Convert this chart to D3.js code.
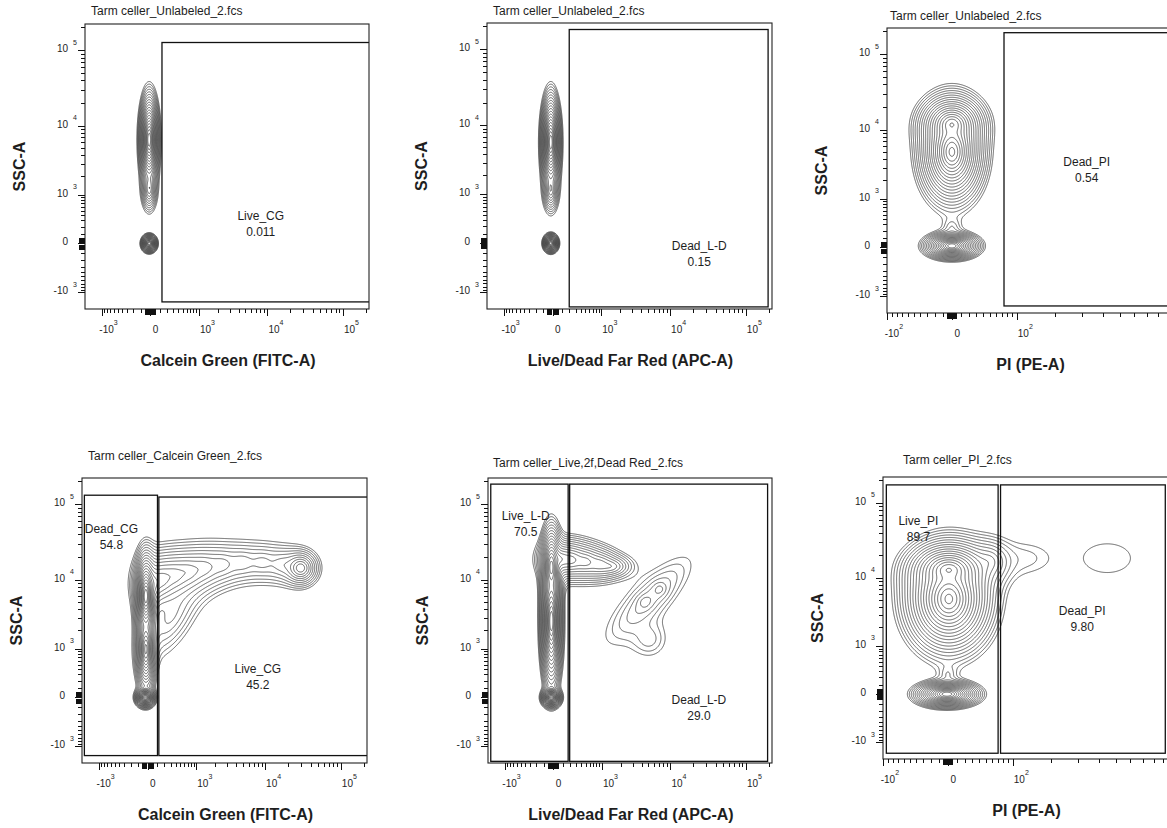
<!DOCTYPE html>
<html><head><meta charset="utf-8">
<script src="https://cdn.jsdelivr.net/npm/d3@7/dist/d3.min.js"></script>
<style>
body{margin:0;background:#fff;}
text{font-family:"Liberation Sans",Arial,Helvetica,sans-serif;fill:#1e1e1e;}
</style></head>
<body><svg id="chart" width="1167" height="828"></svg>
<script>
// ---------------- DATA ----------------
const fileNames = ["Tarm celler_Unlabeled_2.fcs","Tarm celler_Unlabeled_2.fcs","Tarm celler_Unlabeled_2.fcs",
  "Tarm celler_Calcein Green_2.fcs","Tarm celler_Live,2f,Dead Red_2.fcs","Tarm celler_PI_2.fcs"];
const xTitles = ["Calcein Green (FITC-A)","Live/Dead Far Red (APC-A)","PI (PE-A)",
  "Calcein Green (FITC-A)","Live/Dead Far Red (APC-A)","PI (PE-A)"];
const yTitle = "SSC-A";
const xKinds = ["wide","wide","narrow","wide","wide","narrow"];
const wideDomain = [-1850, 220000];
const wideConstant = 300;
const narrowDomain = [-100, 950];
const narrowConstant = 100;
const wideTickLabels = [-1000, 0, 1000, 10000, 100000];
const narrowTickLabels = [-100, 0, 100];

// populations: [x value, y value, spread x (log units), spread y (log units), relative density, correlation, gaussian?]
const pops1 = [[-10,6500,0.048,0.226,1,0],[-10,1270,0.063,0.18,0.03,0],[-10,0,0.038,0.044,0.7,0]];
const pops2 = [[-16,5900,0.048,0.235,1,0],[-16,1200,0.063,0.18,0.03,0],[-16,0,0.037,0.046,0.7,0]];
const pops3 = [[0,5000,0.058,0.26,0.8,0],[0,12000,0.065,0.16,0.3,0],[0,15,0.051,0.07,0.5,0],[0,250,0.05,0.15,0.0025,0]];
const pops4 = [[-15,6000,0.053,0.22,1,0],[-15,980,0.057,0.24,0.3,0],[-20,0,0.048,0.048,0.8,0],
  [45,8660,0.15,0.22,0.035,0],[167,10100,0.18,0.22,0.025,0],[370,11500,0.22,0.22,0.018,0],
  [720,12960,0.24,0.22,0.013,0],[1350,14650,0.24,0.22,0.009,0],[2535,16050,0.24,0.22,0.007,0],
  [4870,17100,0.24,0.22,0.0055,0],[9150,17100,0.24,0.22,0.005,0],[16900,16050,0.24,0.22,0.0055,0],
  [29700,14400,0.15,0.15,0.03,0],[300,3000,0.36,0.5,0.006,0.6]];
const pops5 = [[-18,2680,0.053,0.33,1,0],[-18,14750,0.06,0.24,0.3,0],[-18,0,0.048,0.048,0.8,0],
  [64,19000,0.18,0.16,0.035,0],[222,18500,0.18,0.16,0.025,0],[495,17500,0.18,0.16,0.018,0],
  [910,16300,0.2,0.16,0.013,0],[1437,15100,0.22,0.12,0.012,0],
  [5100,5450,0.55,0.55,0.005,0.8],[4430,4970,0.1,0.1,0.003,0],[7130,7500,0.1,0.1,0.003,0],[5100,1420,0.3,0.3,0.0025,0]];
const pops6 = [[1,5100,0.08,0.28,0.8,0],[1,13000,0.085,0.16,0.3,0],[-1,0,0.06,0.07,0.5,0],[0,250,0.05,0.15,0.0025,0],
  [57,16800,0.085,0.24,0.01,0],[136,18400,0.2,0.4,0.0015,0,1],[449,18400,0.34,0.6,0.00145,0,1]];

// gates: [name, percent, x0, x1, y0, y1, label x, label y]
const gates1 = [["Live_CG","0.011",127,262144,-1437,126000,8100,300]];
const gates2 = [["Dead_L-D","0.15",196,195600,-1720,181000,24400,-70]];
const gates3 = [["Dead_PI","0.54",74.5,5000,-1440,191000,322,3225]];
const gates4 = [["Dead_CG","54.8",-1702,105,-1420,131000,-587,41600],["Live_CG","45.2",122,262144,-1420,124000,7980,318]];
const gates5 = [["Live_L-D","70.5",-1678,170,-1745,183000,-389,61600],["Dead_L-D","29.0",192,192600,-1745,183000,24000,-63]];
const gates6 = [["Live_PI","89.7",-93,71,-1505,173000,-37,51500],["Dead_PI","9.80",75.5,920,-1505,173000,320,2977]];

// ---------------- LAYOUT ----------------
const frames = [
  {left:85,top:24,right:369,bottom:309,tdx:6,tdy:9},
  {left:487,top:23,right:772,bottom:309,tdx:6,tdy:8},
  {left:887,top:28,right:1172,bottom:313,tdx:3,tdy:8},
  {left:82,top:478,right:367,bottom:763,tdx:6,tdy:18},
  {left:488,top:478,right:772,bottom:763,tdx:5,tdy:11},
  {left:883,top:477,right:1168,bottom:759,tdx:20,tdy:13}
];
const popsList = [pops1,pops2,pops3,pops4,pops5,pops6];
const gatesList = [gates1,gates2,gates3,gates4,gates5,gates6];
const LEVELS = 20, STEP = 0.34;

const svg = d3.select("#chart");
const defs = svg.append("defs");
const T = (v, c) => Math.sign(v) * Math.log1p(Math.abs(v) / c);
const crisp = v => Math.round(v) + 0.5;

function tickValues(kind){
  const dom = kind === "wide" ? wideDomain : narrowDomain;
  const clusterUnit = kind === "wide" ? 10 : 1;
  const minorStart = kind === "wide" ? 2 : 1;
  const labels = kind === "wide" ? wideTickLabels : narrowTickLabels;
  const out = [];
  for (let m = 1; m <= 5; m++) { out.push({v: m*clusterUnit, len: 6}); out.push({v: -m*clusterUnit, len: 6}); }
  for (let j = minorStart; j <= 5; j++) for (let m = 1; m <= 9; m++) {
    const v = m * Math.pow(10, j);
    [v, -v].forEach(t => { if (!labels.includes(t)) out.push({v: t, len: 4}); });
  }
  labels.forEach(v => out.push({v, len: 7}));
  return out.filter(t => t.v >= dom[0] && t.v <= dom[1]);
}

function labelParts(v){
  if (v === 0) return {neg:false, base:"0", exp:null};
  return {neg: v < 0, base: "10", exp: String(Math.round(Math.log10(Math.abs(v))))};
}

frames.forEach((p, i) => {
  const kind = xKinds[i];
  const xc = kind === "wide" ? wideConstant : narrowConstant;
  const x = d3.scaleSymlog().constant(xc).domain(kind === "wide" ? wideDomain : narrowDomain).range([p.left, p.right]);
  const y = d3.scaleSymlog().constant(wideConstant).domain(wideDomain).range([p.bottom, p.top]);
  const g = svg.append("g");
  const clipId = "clip" + i;
  defs.append("clipPath").attr("id", clipId).append("rect")
    .attr("x", p.left).attr("y", p.top).attr("width", p.right - p.left).attr("height", p.bottom - p.top);

  // density grid built from population components
  const nx = Math.round(p.right - p.left), ny = Math.round(p.bottom - p.top);
  const comps = popsList[i].map(([cx, cy, sx, sy, w, r, gauss]) =>
    ({tx: T(cx, xc), ty: T(cy, wideConstant), sx, sy, w, r, den: 1 - r*r, gauss: !!gauss}));
  const txs = Float64Array.from(d3.range(nx), k => T(x.invert(p.left + k + 0.5), xc));
  const tys = Float64Array.from(d3.range(ny), k => T(y.invert(p.top + k + 0.5), wideConstant));
  const vals = new Float64Array(nx * ny);
  for (let jj = 0; jj < ny; jj++) {
    for (let ii = 0; ii < nx; ii++) {
      let s = 0;
      for (const c of comps) {
        const u = (txs[ii] - c.tx) / c.sx, v = (tys[jj] - c.ty) / c.sy;
        const q2 = (u*u - 2*c.r*u*v + v*v) / c.den;
        if (q2 < 400) s += c.w * (c.gauss ? Math.exp(-q2 / 2) : Math.exp(1 - Math.sqrt(1 + q2)));
      }
      vals[ii + jj*nx] = s;
    }
  }
  const thr = d3.range(LEVELS, 0, -1).map(k => Math.exp(-k * STEP));
  const cont = d3.contours().size([nx, ny]).thresholds(thr)(vals);
  const path = d3.geoPath(d3.geoTransform({point(a, b){ this.stream.point(p.left + a, p.top + b); }}));
  g.append("g").attr("clip-path", `url(#${clipId})`)
    .selectAll("path").data(cont).join("path")
    .attr("d", path).attr("fill", "none").attr("stroke", "#363636").attr("stroke-width", 0.75);

  // gates
  const gg = g.append("g").attr("clip-path", `url(#${clipId})`);
  gatesList[i].forEach(([name, pct, x0, x1, y0, y1]) => {
    gg.append("rect").attr("x", x(x0)).attr("y", y(y1))
      .attr("width", x(x1) - x(x0)).attr("height", y(y0) - y(y1))
      .attr("fill", "none").attr("stroke", "#111").attr("stroke-width", 1.3);
  });
  gatesList[i].forEach(([name, pct, x0, x1, y0, y1, lx, ly]) => {
    g.append("text").attr("x", x(lx)).attr("y", y(ly)).attr("text-anchor", "middle").attr("font-size", 12).text(name);
    g.append("text").attr("x", x(lx)).attr("y", y(ly) + 16).attr("text-anchor", "middle").attr("font-size", 12).text(pct);
  });

  // frame
  g.append("rect").attr("x", p.left).attr("y", p.top).attr("width", p.right - p.left).attr("height", p.bottom - p.top)
    .attr("fill", "none").attr("stroke", "#222").attr("stroke-width", 1.1);

  // x ticks
  const axG = g.append("g").attr("shape-rendering", "crispEdges").attr("stroke", "#111").attr("stroke-width", 1);
  tickValues(kind).forEach(t => {
    axG.append("line").attr("x1", crisp(x(t.v))).attr("x2", crisp(x(t.v))).attr("y1", p.bottom).attr("y2", p.bottom + t.len);
  });
  (kind === "wide" ? wideTickLabels : narrowTickLabels).forEach(v => {
    const tp = labelParts(v), tx = x(v), by = p.bottom + 24;
    if (tp.exp === null) {
      g.append("text").attr("x", tx + 2.5).attr("y", by).attr("font-size", 10).text(tp.base);
    } else {
      if (tp.neg) g.append("text").attr("x", tx + 1).attr("y", by).attr("text-anchor", "end").attr("font-size", 10).text("-");
      const t = g.append("text").attr("x", tx + 1).attr("y", by).attr("font-size", 10).text(tp.base);
      t.append("tspan").attr("dy", -8).attr("font-size", 7).text(tp.exp);
    }
  });
  // y ticks
  tickValues("wide").forEach(t => {
    axG.append("line").attr("y1", crisp(y(t.v))).attr("y2", crisp(y(t.v))).attr("x1", p.left).attr("x2", p.left - t.len);
  });
  wideTickLabels.forEach(v => {
    const tp = labelParts(v), ty = y(v);
    g.append("text").attr("x", p.left - 17).attr("y", ty + 2).attr("text-anchor", "end").attr("font-size", 10)
      .text((tp.neg ? "-" : "") + tp.base);
    if (tp.exp !== null)
      g.append("text").attr("x", p.left - 12).attr("y", ty - 5.5).attr("font-size", 7).text(tp.exp);
  });

  // titles
  g.append("text").attr("x", p.left + p.tdx).attr("y", p.top - p.tdy).attr("font-size", 12).text(fileNames[i]);
  g.append("text").attr("x", (p.left + p.right)/2 + 1).attr("y", p.bottom + 57).attr("text-anchor", "middle")
    .attr("font-size", 16).attr("font-weight", "bold").text(xTitles[i]);
  g.append("text").attr("transform", `translate(${p.left - 60},${(p.top + p.bottom)/2}) rotate(-90)`)
    .attr("text-anchor", "middle").attr("font-size", 16).attr("font-weight", "bold").text(yTitle);
});
</script>
</body></html>
